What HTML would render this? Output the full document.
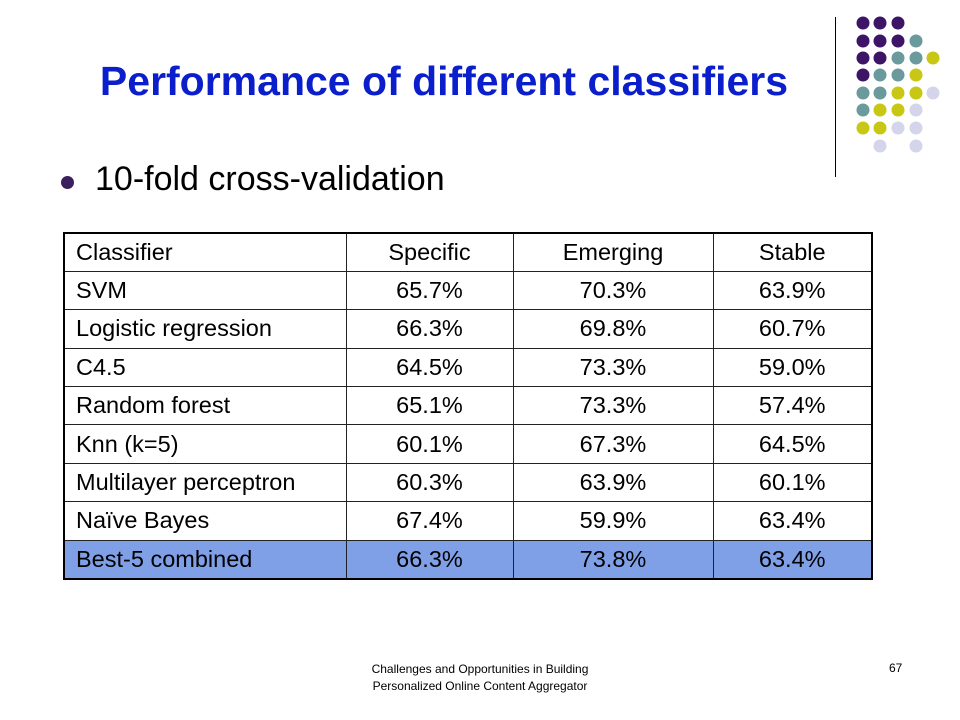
<!DOCTYPE html>
<html><head><meta charset="utf-8"><style>
body{margin:0;width:960px;height:720px;background:#fff;position:relative;overflow:hidden;font-family:"Liberation Sans",Arial,sans-serif}
.abs{position:absolute}
#title{left:0;width:888px;top:58px;text-align:center;font-weight:bold;font-size:41px;color:#0b1ecb}
#bullet{left:61px;top:176px;width:13px;height:13px;border-radius:50%;background:#3b1f5e}
#btext{left:95px;top:160px;font-size:34px;color:#000}
table{position:absolute;left:63px;top:232px;width:810px;border-collapse:collapse;border:2px solid #000;font-size:23.5px}
td{border:1px solid #222;height:38.4px;padding:0;box-sizing:border-box;text-align:center}
td:first-child{text-align:left;padding-left:11px;width:282px}
td:nth-child(2){width:167px}td:nth-child(3){width:200px}
tr.hl td{background:#7f9fe6}
.foot{font-size:12px;color:#000}
</style></head><body>
<div class="abs" id="title">Performance of different classifiers</div>
<div class="abs" id="bullet"></div>
<div class="abs" id="btext">10-fold cross-validation</div>
<div class="abs" style="left:835px;top:17px;width:1px;height:160px;background:#000"></div>
<svg class="abs" style="left:0;top:0" width="960" height="200" id="dots"></svg>
<table>
<tr><td>Classifier</td><td>Specific</td><td>Emerging</td><td>Stable</td></tr>
<tr><td>SVM</td><td>65.7%</td><td>70.3%</td><td>63.9%</td></tr>
<tr><td>Logistic regression</td><td>66.3%</td><td>69.8%</td><td>60.7%</td></tr>
<tr><td>C4.5</td><td>64.5%</td><td>73.3%</td><td>59.0%</td></tr>
<tr><td>Random forest</td><td>65.1%</td><td>73.3%</td><td>57.4%</td></tr>
<tr><td>Knn (k=5)</td><td>60.1%</td><td>67.3%</td><td>64.5%</td></tr>
<tr><td>Multilayer perceptron</td><td>60.3%</td><td>63.9%</td><td>60.1%</td></tr>
<tr><td>Naïve Bayes</td><td>67.4%</td><td>59.9%</td><td>63.4%</td></tr>
<tr class="hl"><td>Best-5 combined</td><td>66.3%</td><td>73.8%</td><td>63.4%</td></tr>
</table>
<div class="abs foot" style="left:330px;width:300px;top:661px;text-align:center;line-height:17px">Challenges and Opportunities in Building<br>Personalized Online Content Aggregator</div>
<div class="abs foot" style="left:889px;top:661px">67</div>
<script>
const rows=["PPP","PPPT","PPTTY","PTTY","TTYYL","TYYL","YYLL","_L_L"];
const col={P:"#3d1466",T:"#6a9a9c",Y:"#c8c814",L:"#d4d4ea"};
const xs=[863,880,898,916,933],ys=[23,41,58,75,93,110,128,146];
const svg=document.getElementById('dots');
rows.forEach((r,i)=>{[...r].forEach((c,j)=>{if(c==="_")return;
const e=document.createElementNS("http://www.w3.org/2000/svg","circle");


e.setAttribute("cx",xs[j]);e.setAttribute("cy",ys[i]);e.setAttribute("r",6.5);e.setAttribute("fill",col[c]);svg.appendChild(e);});});
</script>
</body></html>
